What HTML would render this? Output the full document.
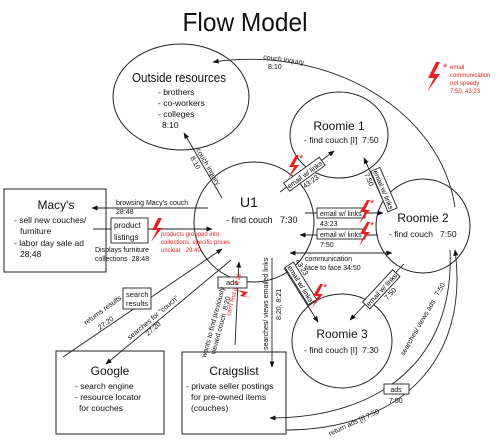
<!DOCTYPE html>
<html><head><meta charset="utf-8"><style>
html,body{margin:0;padding:0;background:#fff;}
svg{display:block;font-family:"Liberation Sans",sans-serif;}
</style></head><body>
<svg width="500" height="440" viewBox="0 0 500 440" xmlns="http://www.w3.org/2000/svg">
<defs>
<marker id="a" viewBox="0 0 10 10" refX="9" refY="5" markerWidth="7" markerHeight="7" orient="auto-start-reverse"><path d="M0,1 L10,5 L0,9 Z" fill="#111"/></marker>
</defs>
<text x="245" y="31" font-size="26" text-anchor="middle" fill="#111" textLength="125" lengthAdjust="spacingAndGlyphs">Flow Model</text>

<g fill="none" stroke="#222" stroke-width="1">
<ellipse cx="181" cy="97" rx="68" ry="53"/>
<circle cx="254" cy="222" r="60"/>
<ellipse cx="339" cy="135" rx="49" ry="43"/>
<ellipse cx="423" cy="226" rx="47" ry="47"/>
<ellipse cx="342" cy="341" rx="50" ry="47"/>
<rect x="4" y="189" width="102" height="83"/>
<rect x="56" y="351" width="108" height="83"/>
<rect x="182" y="352" width="104" height="82"/>
</g>

<g fill="#111">
<text x="179" y="82" font-size="13" text-anchor="middle" textLength="94" lengthAdjust="spacingAndGlyphs">Outside resources</text>
<text x="158" y="95" font-size="8.5">- brothers</text>
<text x="158" y="106" font-size="8.5">- co-workers</text>
<text x="158" y="117" font-size="8.5">- colleges</text>
<text x="162" y="128" font-size="8.5">8:10</text>
<text x="249" y="207" font-size="14" text-anchor="middle">U1</text>
<text x="226" y="223" font-size="9">- find couch&#160;&#160;&#160;7:30</text>
<text x="339" y="130" font-size="12" text-anchor="middle">Roomie 1</text>
<text x="304" y="143" font-size="8.5">- find couch [I]&#160;&#160;7:50</text>
<text x="423" y="222" font-size="12" text-anchor="middle">Roomie 2</text>
<text x="389" y="237" font-size="8.5">- find couch&#160;&#160;&#160;7:50</text>
<text x="342" y="338" font-size="12" text-anchor="middle">Roomie 3</text>
<text x="304" y="353" font-size="8.5">- find couch [I]&#160;&#160;7:30</text>
<text x="56" y="209" font-size="12" text-anchor="middle">Macy's</text>
<text x="14" y="223" font-size="8.5">- sell new couches/</text>
<text x="20" y="234" font-size="8.5">furniture</text>
<text x="14" y="246" font-size="8.5">- labor day sale ad</text>
<text x="20" y="257" font-size="8.5">28:48</text>
<text x="110" y="375" font-size="12" text-anchor="middle">Google</text>
<text x="75" y="389" font-size="8.5">- search engine</text>
<text x="75" y="400" font-size="8.5">- resource locator</text>
<text x="79" y="411" font-size="8.5">for couches</text>
<text x="234" y="375" font-size="12" text-anchor="middle">Craigslist</text>
<text x="186" y="389" font-size="8.5">- private seller postings</text>
<text x="191" y="400" font-size="8.5">for pre-owned items</text>
<text x="191" y="411" font-size="8.5">(couches)</text>
</g>

<g fill="none" stroke="#222" stroke-width="0.9">
<line x1="222" y1="198" x2="184" y2="133" marker-end="url(#a)"/>
<line x1="208" y1="208" x2="92" y2="208" marker-end="url(#a)"/>
<line x1="93" y1="229" x2="212" y2="229" marker-end="url(#a)"/>
<line x1="63" y1="357" x2="222" y2="249" marker-end="url(#a)"/>
<line x1="231" y1="260" x2="106" y2="364" marker-end="url(#a)"/>
<line x1="235" y1="345" x2="239" y2="262" marker-end="url(#a)"/>
<line x1="272" y1="258" x2="272" y2="367" marker-end="url(#a)"/>
<line x1="280" y1="192" x2="334" y2="151" marker-end="url(#a)"/>
<line x1="386" y1="207" x2="364" y2="158" marker-end="url(#a)"/>
<line x1="305" y1="213" x2="383" y2="213" marker-end="url(#a)"/>
<line x1="378" y1="235" x2="300" y2="235" marker-end="url(#a)"/>
<line x1="290" y1="253" x2="392" y2="253" marker-start="url(#a)" marker-end="url(#a)"/>
<line x1="284" y1="268" x2="318" y2="322" marker-end="url(#a)"/>
<line x1="404" y1="264" x2="350" y2="320" marker-end="url(#a)"/>
<path d="M455,207 C440,110 330,45 213,62" marker-end="url(#a)"/>
<path d="M450,250 C455,360 380,418 270,418" marker-end="url(#a)"/>
<path d="M286,430 C400,430 470,360 455,250" marker-end="url(#a)"/>
</g>

<g fill="#fff" stroke="#222" stroke-width="0.9">
<rect x="111" y="218" width="37" height="25"/>
<rect x="123" y="288" width="28" height="21"/>
<rect x="218" y="277" width="29" height="11"/>
<rect x="384" y="384" width="25" height="10"/>
<rect x="317" y="208" width="48" height="10"/>
<rect x="317" y="229" width="48" height="10"/>
</g>
<g fill="#111" font-size="7">
<text x="114" y="228" font-size="8">product</text>
<text x="114" y="240" font-size="8">listings</text>
<text x="126" y="297" font-size="7.5">search</text>
<text x="126" y="306" font-size="7.5">results</text>
<text x="232" y="285" text-anchor="middle" font-size="7.5">ads</text>
<text x="396" y="392" text-anchor="middle">ads</text>
<text x="389" y="403">7:50</text>
<text x="320" y="216">email w/ links</text>
<text x="320" y="226">43:23</text>
<text x="320" y="237">email w/ links</text>
<text x="320" y="247">7:50</text>
<text x="116" y="205">browsing Macy's couch</text>
<text x="116" y="214">28:48</text>
<text x="95" y="252">Displays furniture</text>
<text x="95" y="261">collections&#160;&#160;28:48</text>
<text x="305" y="261">communication</text>
<text x="305" y="270">face to face 34:50</text>
<text x="263" y="59" transform="rotate(8 263 59)">couch inquiry</text>
<text x="268" y="69">8:10</text>
</g>

<g font-size="7">
<g transform="translate(305,175) rotate(-36)">
<rect x="-22" y="-6" width="44" height="10" fill="#fff" stroke="#222" stroke-width="0.9"/>
<text x="0" y="2" text-anchor="middle">email w/ links</text>
<text x="-8" y="11">43:23</text>
</g>
<g transform="translate(383,190) rotate(67)">
<rect x="-22" y="-6" width="44" height="10" fill="#fff" stroke="#222" stroke-width="0.9"/>
<text x="0" y="2" text-anchor="middle">email w/ links</text>
<text x="-22" y="11">7:50</text>
</g>
<g transform="translate(300,284) rotate(58)">
<rect x="-22" y="-6" width="44" height="10" fill="#fff" stroke="#222" stroke-width="0.9"/>
<text x="0" y="2" text-anchor="middle">email w/ links</text>
<text x="-22" y="-8">43:23</text>
</g>
<g transform="translate(382,290) rotate(-47)">
<rect x="-22" y="-6" width="44" height="10" fill="#fff" stroke="#222" stroke-width="0.9"/>
<text x="0" y="2" text-anchor="middle">email w/ links</text>
<text x="-4" y="11">7:50</text>
</g>
</g>

<g font-size="7" fill="#111">
<text transform="translate(196,150) rotate(60)">couch inquiry</text>
<text transform="translate(190,158) rotate(60)">8:10</text>
<text transform="translate(86,325) rotate(-36)">returns results</text>
<text transform="translate(100,330) rotate(-36)">27:20</text>
<text transform="translate(130,340) rotate(-40)">searches for "couch"</text>
<text transform="translate(148,336) rotate(-40)">27:20</text>
<text transform="translate(206,358) rotate(-75)">wants to find previously</text>
<text transform="translate(215,355) rotate(-75)">viewed couch&#160;&#160;8:20</text>
<text transform="translate(268,350) rotate(-90)">searches/ views emailed links</text>
<text transform="translate(281,320) rotate(-90)">8:20, 8:21</text>
<text transform="translate(404,356) rotate(-60)">searches/ views ads&#160;&#160;&#160;7:50</text>
<text transform="translate(330,436) rotate(-25)">return ads [I] 7:50</text>
</g>

<g fill="#e52222">
<path d="M436,62 L428,78 L434,78 L427,92 L440,74 L434,74 L440,62 Z"/>
<text x="443" y="71" font-size="11">*</text>
<text x="450" y="69" font-size="6">email</text>
<text x="450" y="77" font-size="6">communication</text>
<text x="450" y="85" font-size="6">not speedy</text>
<text x="450" y="93" font-size="6">7:50, 43:23</text>
<path d="M158,218 L152,230 L157,230 L151,242 L162,228 L157,228 L162,218 Z"/>
<text x="161" y="236" font-size="6">products grouped into</text>
<text x="161" y="244" font-size="6">collections; specific prices</text>
<text x="161" y="252" font-size="6">unclear&#160;&#160;&#160;29:40</text>
<path d="M296,155 L289,167 L294,167 L288,179 L299,165 L294,165 L299,155 Z"/>
<text x="299" y="162" font-size="11">*</text>
<path d="M367,200 L360,212 L365,212 L359,224 L370,210 L365,210 L370,200 Z"/>
<text x="370" y="207" font-size="11">*</text>
<path d="M367,222 L360,234 L365,234 L359,246 L370,232 L365,232 L370,222 Z"/>
<text x="370" y="229" font-size="11">*</text>
<path d="M320,284 L313,296 L318,296 L312,308 L323,294 L318,294 L323,284 Z"/>
<text x="323" y="291" font-size="11">*</text>
<path d="M236,290 L248,292 L244,296 L252,298 L240,296 L243,293 Z"/>
<text transform="translate(230,316) rotate(-75)" font-size="6">can't find it&#160;&#160;8:29</text>
</g>
</svg>
</body></html>
